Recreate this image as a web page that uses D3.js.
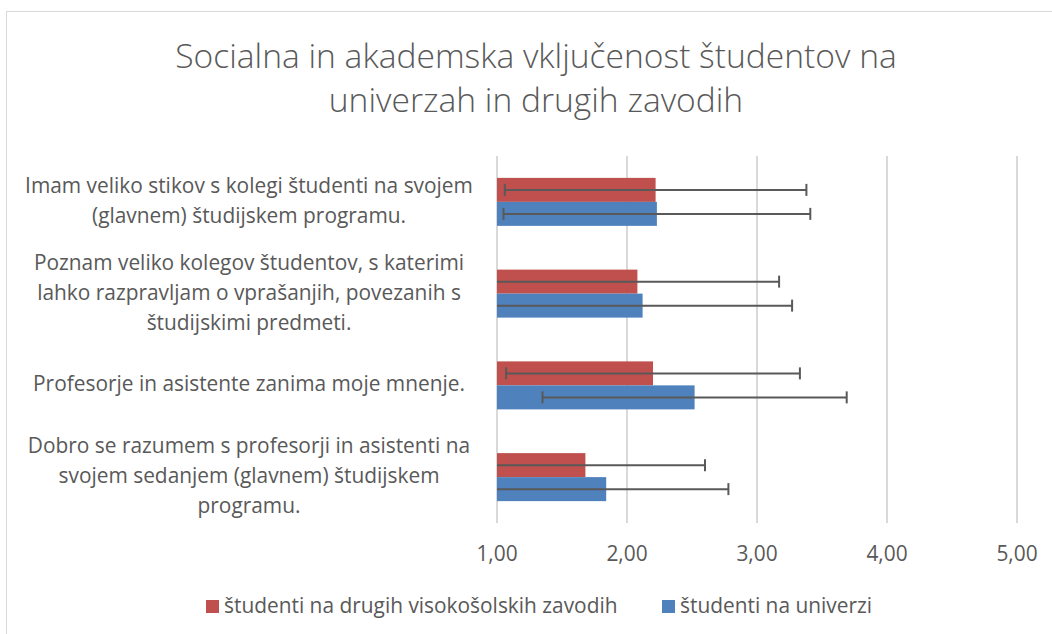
<!DOCTYPE html>
<html>
<head>
<meta charset="utf-8">
<script src="https://d3js.org/d3.v7.min.js"></script>
<style>
  body { margin: 0; background: #fff; }
  text { font-family: "Open Sans", sans-serif; fill: #595959; }
</style>
</head>
<body>
<script>
// categories, top to bottom
var categories = [
  ["Imam veliko stikov s kolegi študenti na svojem", "(glavnem) študijskem programu."],
  ["Poznam veliko kolegov študentov, s katerimi", "lahko razpravljam o vprašanjih, povezanih s", "študijskimi predmeti."],
  ["Profesorje in asistente zanima moje mnenje."],
  ["Dobro se razumem s profesorji in asistenti na", "svojem sedanjem (glavnem) študijskem", "programu."]
];
var seriesNames = ["študenti na drugih visokošolskih zavodih", "študenti na univerzi"];
var seriesColors = ["#C0504D", "#4F81BD"];
// means and standard deviations, same order as categories
var drugiMean = [2.22, 2.08, 2.20, 1.68];
var drugiSd   = [1.16, 1.09, 1.13, 0.92];
var uniMean   = [2.23, 2.12, 2.52, 1.84];
var uniSd     = [1.18, 1.15, 1.17, 0.94];
var ticks = [1, 2, 3, 4, 5];

var width = 1052, height = 634;
var svg = d3.select("body").append("svg")
  .attr("width", width).attr("height", height);

// chart frame
svg.append("rect")
  .attr("x", 6.5).attr("y", 11.5)
  .attr("width", 1060).attr("height", 640)
  .attr("fill", "#fff").attr("stroke", "#d9d9d9");

// fit a font size so a text gets a given width
function fitSize(str, target, weight) {
  var t = svg.append("text").style("font-size", "20px")
    .style("font-weight", weight || 400).text(str);
  var w = t.node().getComputedTextLength();
  t.remove();
  return 20 * target / w;
}

// title
var titleLines = ["Socialna in akademska vključenost študentov na", "univerzah in drugih zavodih"];
var titleSize = fitSize(titleLines[0], 722, 300);
svg.append("text")
  .attr("x", 536).attr("text-anchor", "middle")
  .style("font-size", titleSize + "px").style("font-weight", 300)
  .selectAll("tspan").data(titleLines).enter().append("tspan")
    .attr("x", 536)
    .attr("y", function (d, i) { return 68 + i * 44; })
    .text(function (d) { return d; });

var x = d3.scaleLinear().domain([1, 5]).range([497, 1017]);
var y = d3.scaleBand().domain(d3.range(categories.length)).range([156, 523]);
var barH = 24;

// gridlines
svg.append("g").selectAll("line").data(ticks).enter().append("line")
  .attr("x1", function (d) { return x(d); })
  .attr("x2", function (d) { return x(d); })
  .attr("y1", 156).attr("y2", 523)
  .attr("stroke", "#d9d9d9").attr("stroke-width", 2);

var labelSize = fitSize(categories[0][0], 448);

// tick labels
svg.append("g").selectAll("text").data(ticks).enter().append("text")
  .attr("x", function (d) { return x(d); })
  .attr("y", 561)
  .attr("text-anchor", "middle")
  .style("font-size", labelSize + "px")
  .text(function (d) { return d3.format(".2f")(d).replace(".", ","); });

// category labels
var lineH = 30;
categories.forEach(function (lines, i) {
  var cy = y(i) + y.bandwidth() / 2;
  svg.append("text")
    .attr("text-anchor", "middle")
    .style("font-size", labelSize + "px")
    .selectAll("tspan").data(lines).enter().append("tspan")
      .attr("x", 249)
      .attr("y", function (d, k) { return cy + (k - (lines.length - 1) / 2) * lineH + 6; })
      .text(function (d) { return d; });
});

// bars + error bars (clipped at the axis start, like Excel)
var series = [
  { mean: drugiMean, sd: drugiSd, color: seriesColors[0], off: -barH },
  { mean: uniMean, sd: uniSd, color: seriesColors[1], off: 0 }
];
series.forEach(function (s) {
  var g = svg.append("g");
  s.mean.forEach(function (m, i) {
    var top = y(i) + y.bandwidth() / 2 + s.off;
    g.append("rect")
      .attr("x", x(1)).attr("y", top)
      .attr("width", x(m) - x(1)).attr("height", barH)
      .attr("fill", s.color);
    var lo = m - s.sd[i], hi = m + s.sd[i];
    var cy = top + barH / 2;
    var eg = g.append("g").attr("stroke", "#595959").attr("stroke-width", 2);
    eg.append("line")
      .attr("x1", x(Math.max(lo, 1))).attr("x2", x(hi))
      .attr("y1", cy).attr("y2", cy);
    eg.append("line")
      .attr("x1", x(hi)).attr("x2", x(hi))
      .attr("y1", cy - 6).attr("y2", cy + 6);
    if (lo >= 1) {
      eg.append("line")
        .attr("x1", x(lo)).attr("x2", x(lo))
        .attr("y1", cy - 6).attr("y2", cy + 6);
    }
  });
});

// legend
var legendX = [206, 662];
var lg = svg.append("g").selectAll("g").data(seriesNames).enter().append("g")
  .attr("transform", function (d, i) { return "translate(" + legendX[i] + ",600)"; });
lg.append("rect").attr("width", 13).attr("height", 13)
  .attr("fill", function (d, i) { return seriesColors[i]; });
lg.append("text").attr("x", 18).attr("y", 13)
  .style("font-size", labelSize + "px")
  .text(function (d) { return d; });
</script>
</body>
</html>
